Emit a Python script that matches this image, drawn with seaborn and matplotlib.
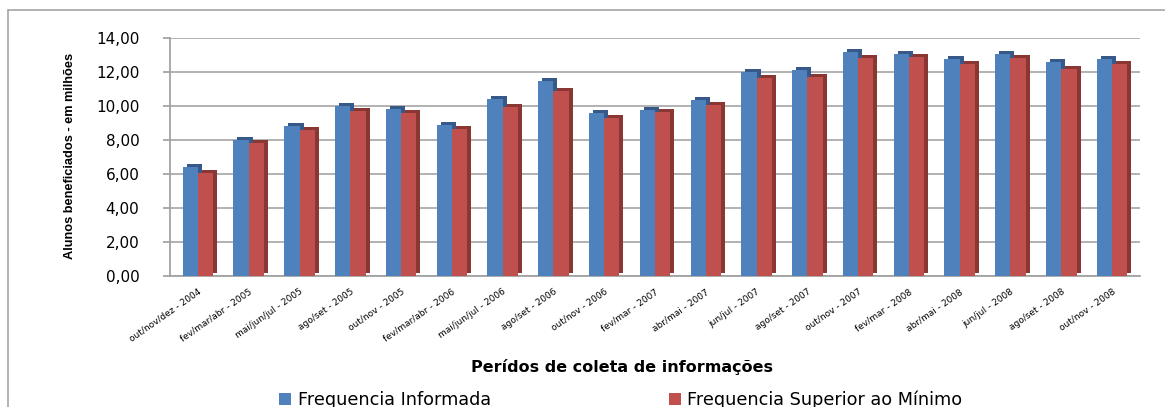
import matplotlib
matplotlib.use("Agg")
import matplotlib.pyplot as plt
import matplotlib.transforms as mtransforms
from matplotlib.patches import Rectangle, Patch
from matplotlib.lines import Line2D
import seaborn as sns
import pandas as pd
import numpy as np

periods = ["out/nov/dez - 2004", "fev/mar/abr - 2005", "mai/jun/jul - 2005", "ago/set - 2005",
           "out/nov - 2005", "fev/mar/abr - 2006", "mai/jun/jul - 2006", "ago/set - 2006",
           "out/nov - 2006", "fev/mar - 2007", "abr/mai - 2007", "jun/jul - 2007",
           "ago/set - 2007", "out/nov - 2007", "fev/mar - 2008", "abr/mai - 2008",
           "jun/jul - 2008", "ago/set - 2008", "out/nov - 2008"]
freq_informada = [6.40, 8.00, 8.85, 10.00, 9.85, 8.90, 10.40, 11.50, 9.60, 9.75, 10.35,
                  12.00, 12.10, 13.15, 13.05, 12.75, 13.05, 12.60, 12.75]
freq_superior = [6.05, 7.85, 8.60, 9.70, 9.60, 8.65, 9.95, 10.90, 9.30, 9.65, 10.05,
                 11.65, 11.70, 12.85, 12.90, 12.50, 12.80, 12.15, 12.45]
series_names = ["Frequencia Informada", "Frequencia Superior ao Mínimo"]
yticks = [0, 2, 4, 6, 8, 10, 12, 14]

df = pd.DataFrame({
    "periodo": periods * 2,
    "valor": freq_informada + freq_superior,
    "serie": [series_names[0]] * len(periods) + [series_names[1]] * len(periods),
})

sns.set_theme(style="white")
plt.rcParams["font.family"] = ["DejaVu Sans"]
plt.rcParams["text.color"] = "black"
plt.rcParams["xtick.color"] = "black"
plt.rcParams["ytick.color"] = "black"

W, H = 1165, 407
fig = plt.figure(figsize=(W / 100, H / 100), dpi=100)
fig.add_artist(Line2D([8 / W, 8 / W], [0, 1 - 10 / H], transform=fig.transFigure,
                      color="#a6a6a6", linewidth=1.2))
fig.add_artist(Line2D([8 / W, 1], [1 - 10 / H, 1 - 10 / H], transform=fig.transFigure,
                      color="#a6a6a6", linewidth=1.2))

ax = fig.add_axes([170 / W, 1 - 276 / H, (1140 - 170) / W, (276 - 38) / H])
colors = ["#4F81BD", "#C0504D"]
dark = ["#36598A", "#8A3633"]
sns.barplot(data=df, x="periodo", y="valor", hue="serie", palette=colors,
            width=0.6, ax=ax, legend=False, saturation=1, zorder=3)

# 3D-like depth: darker offset copy behind each bar
offset = mtransforms.ScaledTranslation(4 / 100, 3 / 100, fig.dpi_scale_trans)
for i, cont in enumerate(ax.containers):
    for p in cont.patches:
        sh = Rectangle(p.get_xy(), p.get_width(), p.get_height(),
                       facecolor=dark[i], edgecolor="none",
                       transform=ax.transData + offset, zorder=2)
        ax.add_patch(sh)
        p.set_edgecolor("none")

ax.set_ylim(0, 14)
ax.set_xlim(-0.55, len(periods) - 0.45)
ax.set_yticks(yticks)
ax.set_yticklabels([f"{v:.2f}".replace(".", ",") for v in yticks], fontsize=11)
for y in yticks:
    ax.axhline(y, color="#9d9d9d", linewidth=1.1, zorder=1)
for s in ["top", "right"]:
    ax.spines[s].set_visible(False)
ax.spines["left"].set_color("#a0a0a0")
ax.spines["bottom"].set_color("#a0a0a0")
ax.tick_params(axis="y", length=5, color="#a0a0a0", pad=17, left=True)
ax.tick_params(axis="x", length=0, pad=8)
ax.set_xticks(range(len(periods)))
ax.set_xticklabels(periods, rotation=35, ha="right", rotation_mode="anchor",
                   fontsize=6.5)
ax.set_xlabel("")
ax.set_ylabel("")

fig.text(70 / W, 1 - 156 / H, "Alunos beneficiados - em milhões", rotation=90,
         ha="center", va="center", fontsize=9.2, fontweight="bold",
         family=["Liberation Sans", "DejaVu Sans"])
fig.text(622 / W, 1 - 367 / H, "Perídos de coleta de informações", ha="center",
         va="center", fontsize=11.5, fontweight="bold")

handles = [Patch(facecolor=c, edgecolor="none") for c in colors]
fig.legend(handles, series_names, loc="center left", bbox_to_anchor=(279 / W, 1 - 400 / H),
           ncol=2, frameon=False, fontsize=12.7, handlelength=0.7, handleheight=0.7,
           handletextpad=0.35, columnspacing=10.1, borderpad=0, borderaxespad=0)

fig.savefig("out.png", dpi=100)
